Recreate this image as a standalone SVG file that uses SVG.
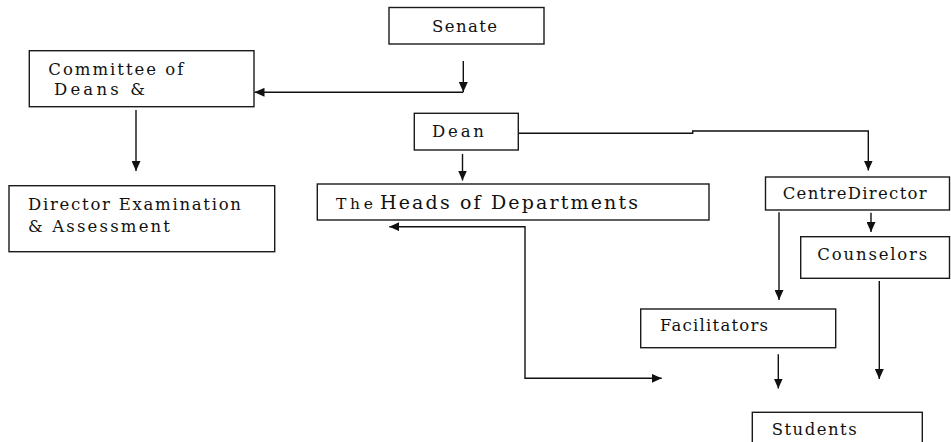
<svg xmlns="http://www.w3.org/2000/svg" width="951" height="442" viewBox="0 0 951 442">
<style>
.box{fill:#fff;stroke:#1a1a1a;stroke-width:1.4}
.t{font-family:"DejaVu Serif","Liberation Serif",serif;font-size:16.5px;fill:#111}
.c{fill:none;stroke:#111;stroke-width:1.4;marker-end:url(#ah)}
</style>
<defs>
<marker id="ah" markerUnits="userSpaceOnUse" markerWidth="10" markerHeight="9" refX="10" refY="4.5" orient="auto-start-reverse" viewBox="0 0 10 9">
<path d="M0,0 L10,4.5 L0,9 z" fill="#111"/>
</marker>
</defs>
<rect width="951" height="442" fill="#fff"/>
<g id="connectors">
<path class="c" d="M463.3,61 V92"/>
<path class="c" d="M463.3,92.3 H254.5"/>
<path class="c" d="M136,110 V171"/>
<path class="c" d="M462.5,154 V180.5"/>
<path class="c" d="M518.3,133.3 H692.7 V131 H868.3 V170.5"/>
<path class="c" d="M871,212.7 V232"/>
<path class="c" d="M779,212.3 V300"/>
<path class="c" d="M879.3,281 V379"/>
<path class="c" d="M778.3,354.3 V388.5"/>
<path class="c" style="marker-start:url(#ah)" d="M389.3,226.7 H525 V378.3 H661.7"/>
</g>
<g id="senate">
<rect class="box" x="389" y="7.5" width="155" height="36.5"/>
<text class="t" x="432" y="31.7" textLength="65" lengthAdjust="spacing">Senate</text>
</g>
<g id="committee">
<rect class="box" x="29.3" y="50.7" width="224.7" height="56"/>
<text class="t" x="48.3" y="75" textLength="135" lengthAdjust="spacing">Committee of</text>
<text class="t" x="54" y="95" textLength="91" lengthAdjust="spacing">Deans &amp;</text>
</g>
<g id="dean">
<rect class="box" x="414.3" y="113.3" width="104" height="36.7"/>
<text class="t" x="432" y="136.7" textLength="52" lengthAdjust="spacing">Dean</text>
</g>
<g id="director">
<rect class="box" x="9" y="185.7" width="265.7" height="66"/>
<text class="t" x="28" y="210" textLength="213" lengthAdjust="spacing">Director Examination</text>
<text class="t" x="28" y="231.7" textLength="142" lengthAdjust="spacing">&amp; Assessment</text>
</g>
<g id="heads">
<rect class="box" x="317.3" y="184" width="391.7" height="36"/>
<text class="t" x="336" y="209.3" textLength="37" lengthAdjust="spacing" style="font-size:15.5px">The</text>
<text class="t" x="380" y="209.3" textLength="258" lengthAdjust="spacing" style="font-size:19px">Heads of Departments</text>
</g>
<g id="centredirector">
<rect class="box" x="765.5" y="177" width="184" height="33"/>
<text class="t" x="782.7" y="199.3" textLength="144" lengthAdjust="spacing">CentreDirector</text>
</g>
<g id="counselors">
<rect class="box" x="800.7" y="236.7" width="148.8" height="41.6"/>
<text class="t" x="817.3" y="260" textLength="110" lengthAdjust="spacing">Counselors</text>
</g>
<g id="facilitators">
<rect class="box" x="640.7" y="309" width="195" height="38.7"/>
<text class="t" x="660" y="331" textLength="108" lengthAdjust="spacing">Facilitators</text>
</g>
<g id="students">
<rect class="box" x="752.3" y="412.3" width="170" height="40"/>
<text class="t" x="771.7" y="435" textLength="85" lengthAdjust="spacing">Students</text>
</g>
</svg>
